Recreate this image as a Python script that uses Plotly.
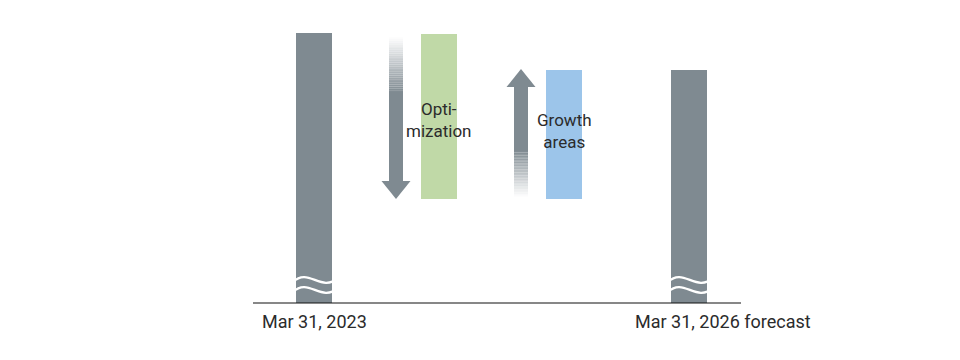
import plotly.graph_objects as go

# ---- data (schematic values, baseline = 0) ----
categories = ["Mar 31, 2023", "Optimization", "Growth areas", "Mar 31, 2026 forecast"]
bar_tops = [270, 269, 233, 233]
bar_bases = [0, 104, 104, 0]
inner_labels = ["", "Opti-<br>mization", "Growth<br>areas", ""]
axis_labels = ["Mar 31, 2023", "", "", "Mar 31, 2026 forecast"]

GRAY = "#7f8a91"
GREEN = "#c0d9a7"
BLUE = "#9cc5ea"
TXT = "#2b2b2b"
FONT = "Roboto, sans-serif"

# pixel -> data unit helpers (x: 125 px per category, y: 1 px per unit)
UX = 1 / 125.0
xs = list(range(len(categories)))
heights = [t - b for t, b in zip(bar_tops, bar_bases)]
colors = [GRAY, GREEN, BLUE, GRAY]

fig = go.Figure()
fig.add_trace(go.Bar(
    x=xs, y=heights, base=bar_bases, width=36 * UX,
    marker=dict(color=colors, line=dict(width=0)),
    hoverinfo="skip", showlegend=False,
))

shapes = []
# baseline axis line
shapes.append(dict(type="line", xref="x", yref="y",
                   x0=xs[0] - 61 * UX, x1=xs[-1] + 52 * UX, y0=0, y1=0,
                   line=dict(color="#111111", width=1.2)))


def mix(t):
    g = (127, 138, 145)
    c = [round(255 + (gc - 255) * t) for gc in g]
    return "rgb(%d,%d,%d)" % tuple(c)


def arrow(cx, y_from, y_to, fade_len, down):
    shaft_hw = 7 * UX
    head_hw = 14.5 * UX
    head_len = 18
    n = 30
    if down:
        head_base = y_to + head_len
        tail, solid_start = y_from, y_from - fade_len
        for i in range(n):
            a = tail - fade_len * i / n
            b = tail - fade_len * (i + 1) / n
            shapes.append(dict(type="rect", xref="x", yref="y", x0=cx - shaft_hw, x1=cx + shaft_hw,
                               y0=b, y1=a, fillcolor=mix((i + 0.5) / n), line=dict(width=0), layer="above"))
        shapes.append(dict(type="rect", xref="x", yref="y", x0=cx - shaft_hw, x1=cx + shaft_hw,
                           y0=head_base - 0.5, y1=solid_start, fillcolor=GRAY, line=dict(width=0), layer="above"))
    else:
        head_base = y_to - head_len
        tail, solid_start = y_from, y_from + fade_len
        for i in range(n):
            a = tail + fade_len * i / n
            b = tail + fade_len * (i + 1) / n
            shapes.append(dict(type="rect", xref="x", yref="y", x0=cx - shaft_hw, x1=cx + shaft_hw,
                               y0=a, y1=b, fillcolor=mix((i + 0.5) / n), line=dict(width=0), layer="above"))
        shapes.append(dict(type="rect", xref="x", yref="y", x0=cx - shaft_hw, x1=cx + shaft_hw,
                           y0=solid_start, y1=head_base + 0.5, fillcolor=GRAY, line=dict(width=0), layer="above"))
    path = "M %f,%f L %f,%f L %f,%f Z" % (cx - head_hw, head_base, cx + head_hw, head_base, cx, y_to)
    shapes.append(dict(type="path", xref="x", yref="y", path=path, fillcolor=GRAY,
                       line=dict(width=0), layer="above"))


arrow(xs[1] - 43 * UX, bar_tops[1] - 3, bar_bases[1], 55, down=True)
arrow(xs[2] - 43 * UX, bar_bases[2] + 2, bar_tops[2] + 1, 46, down=False)


def wave(cx, ymid):
    x0 = cx - 21 * UX
    x1 = cx + 24 * UX
    w = x1 - x0
    h = 13
    return ("M %f,%f C %f,%f %f,%f %f,%f" %
            (x0, ymid - 2, x0 + w * 0.35, ymid + h, x0 + w * 0.62, ymid - h, x1, ymid + 2))


for i in (0, 3):
    for ym in (23, 13):
        shapes.append(dict(type="path", xref="x", yref="y", path=wave(xs[i], ym),
                           line=dict(color="white", width=2.4), layer="above"))

annotations = []
label_offsets = [0, -3.5, 3.5, 0]
for i, lab in enumerate(inner_labels):
    if lab:
        yc = (bar_tops[i] + bar_bases[i]) / 2 + label_offsets[i]
        annotations.append(dict(x=xs[i], y=yc, xref="x", yref="y", text=lab, showarrow=False,
                                font=dict(family=FONT, size=17, color=TXT), align="center",
                                xanchor="center", yanchor="middle"))

annotations.append(dict(x=xs[0], y=0, xref="x", yref="y", text=axis_labels[0], showarrow=False,
                        font=dict(family=FONT, size=18, color=TXT), xanchor="center", yanchor="top", yshift=-6))
annotations.append(dict(x=xs[3], y=0, xref="x", yref="y", text=axis_labels[3], showarrow=False,
                        font=dict(family=FONT, size=18, color=TXT), xanchor="left", yanchor="top",
                        yshift=-6, xshift=-56))

fig.update_layout(
    width=960, height=360,
    margin=dict(l=0, r=0, t=0, b=0),
    paper_bgcolor="white", plot_bgcolor="white",
    xaxis=dict(range=[xs[0] - 314 * UX, xs[0] + (960 - 314) * UX], visible=False, fixedrange=True),
    yaxis=dict(range=[-57, 303], visible=False, fixedrange=True),
    shapes=shapes, annotations=annotations,
    bargap=0,
)

fig.write_html("out.html")
